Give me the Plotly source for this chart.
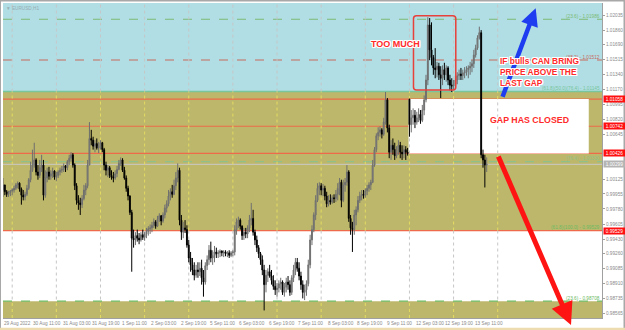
import plotly.graph_objects as go

# ---------------- data (EURUSD H1, 29 Aug 19:00 -> 13 Sep 2022) ----------------
CLOSE = [
 1.0006,0.9998,0.9995,0.9997,0.9999,1.0000,1.0002,1.0006,1.0008,1.0001,
 0.9994,0.9992,0.9995,1.0002,1.0012,1.0023,1.0029,1.0035,1.0021,1.0017,
 1.0026,1.0029,0.9994,1.0014,1.0021,1.0016,1.0019,1.0022,1.0015,1.0017,
 1.0021,1.0023,1.0024,1.0028,1.0026,1.0033,1.0037,1.0041,1.0029,1.0005,
 0.9988,0.9985,0.9983,0.9990,1.0000,1.0005,1.0029,1.0060,1.0058,1.0051,
 1.0054,1.0049,1.0051,1.0055,1.0047,1.0029,1.0023,1.0026,1.0017,1.0015,
 1.0014,1.0019,1.0024,1.0031,1.0035,1.0023,1.0014,1.0002,0.9993,0.9974,
 0.9944,0.9942,0.9947,0.9944,0.9942,0.9948,0.9945,0.9949,0.9952,0.9955,
 0.9956,0.9959,0.9963,0.9958,0.9966,0.9970,0.9964,0.9971,0.9979,0.9984,
 0.9993,0.9998,0.9995,1.0005,1.0014,1.0023,0.9965,0.9951,0.9956,0.9954,
 0.9936,0.9921,0.9913,0.9907,0.9901,0.9907,0.9905,0.9909,0.9898,0.9893,
 0.9912,0.9919,0.9930,0.9921,0.9924,0.9928,0.9926,0.9927,0.9929,0.9927,
 0.9928,0.9926,0.9927,0.9924,0.9927,0.9928,0.9954,0.9963,0.9965,0.9958,
 0.9947,0.9951,0.9949,0.9956,0.9965,0.9967,0.9951,0.9942,0.9933,0.9926,
 0.9919,0.9907,0.9890,0.9901,0.9905,0.9900,0.9895,0.9888,0.9884,0.9886,
 0.9891,0.9893,0.9881,0.9887,0.9893,0.9890,0.9881,0.9898,0.9907,0.9916,
 0.9909,0.9900,0.9890,0.9881,0.9884,0.9891,0.9913,0.9942,0.9954,0.9971,
 0.9988,1.0002,1.0005,1.0000,1.0002,0.9993,0.9984,0.9988,0.9986,0.9991,
 0.9990,0.9995,1.0002,1.0009,0.9988,1.0006,1.0009,1.0021,0.9967,0.9956,
 0.9954,0.9971,0.9977,0.9988,0.9993,0.9995,0.9994,0.9999,1.0002,1.0006,
 1.0009,1.0029,1.0047,1.0063,1.0067,1.0070,1.0065,1.0079,1.0105,1.0072,
 1.0044,1.0052,1.0047,1.0040,1.0047,1.0052,1.0044,1.0042,1.0047,1.0044,
 1.00426,1.0076,1.0084,1.0087,1.0079,1.0084,1.0088,1.0081,1.0093,1.0105,
 1.0128,1.0192,1.0163,1.0154,1.0142,1.0140,1.0144,1.0134,1.0130,1.0140,
 1.0134,1.0142,1.0128,1.0122,1.0121,1.0123,1.0128,1.0133,1.0135,1.0133,
 1.0136,1.0137,1.0140,1.0142,1.0144,1.0147,1.0157,1.0165,1.0177,1.0183,
 1.0041,1.0035,1.0029,1.00299]
HIGH = [
 1.0014,1.0006,1.0000,0.9999,1.0000,1.0002,1.0005,1.0008,1.0010,1.0009,
 1.0003,1.0000,0.9998,1.0006,1.0014,1.0033,1.0047,1.0055,1.0037,1.0029,
 1.0035,1.0041,1.0035,1.0023,1.0026,1.0027,1.0023,1.0026,1.0023,1.0021,
 1.0023,1.0026,1.0028,1.0031,1.0029,1.0035,1.0041,1.0044,1.0043,1.0031,
 1.0008,0.9994,0.9991,0.9994,1.0006,1.0008,1.0035,1.0079,1.0070,1.0062,
 1.0058,1.0060,1.0056,1.0058,1.0056,1.0049,1.0033,1.0029,1.0028,1.0023,
 1.0021,1.0023,1.0028,1.0035,1.0038,1.0037,1.0027,1.0017,1.0005,0.9994,
 0.9977,0.9954,0.9951,0.9954,0.9950,0.9951,0.9954,0.9951,0.9956,0.9958,
 0.9960,0.9963,0.9967,0.9965,0.9970,0.9973,0.9971,0.9974,0.9983,0.9988,
 1.0000,1.0002,1.0006,1.0012,1.0021,1.0031,1.0026,0.9971,0.9963,0.9965,
 0.9959,0.9942,0.9928,0.9921,0.9916,0.9913,0.9916,0.9916,0.9919,0.9907,
 0.9916,0.9924,0.9936,0.9940,0.9930,0.9935,0.9933,0.9930,0.9931,0.9930,
 0.9930,0.9930,0.9929,0.9930,0.9929,0.9930,0.9959,0.9967,0.9969,0.9967,
 0.9959,0.9956,0.9956,0.9959,0.9971,0.9985,0.9977,0.9954,0.9947,0.9936,
 0.9928,0.9924,0.9913,0.9907,0.9909,0.9913,0.9907,0.9901,0.9895,0.9892,
 0.9895,0.9898,0.9895,0.9892,0.9898,0.9900,0.9895,0.9901,0.9913,0.9921,
 0.9921,0.9916,0.9905,0.9895,0.9890,0.9895,0.9919,0.9948,0.9959,0.9974,
 0.9994,1.0008,1.0009,1.0008,1.0007,1.0005,0.9998,0.9994,0.9995,0.9994,
 0.9995,1.0000,1.0008,1.0014,1.0012,1.0012,1.0014,1.0029,1.0023,0.9971,
 0.9963,0.9977,0.9981,0.9993,0.9998,1.0000,1.0000,1.0002,1.0006,1.0009,
 1.0012,1.0035,1.0050,1.0066,1.0073,1.0074,1.0072,1.0084,1.0114,1.0107,
 1.0076,1.0058,1.0060,1.0055,1.0051,1.0058,1.0056,1.0052,1.0052,1.0051,
 1.0049,1.0106,1.0093,1.0095,1.0093,1.0091,1.0095,1.0093,1.0099,1.0110,
 1.0134,1.0201,1.0200,1.0195,1.0157,1.0165,1.0149,1.0148,1.0144,1.0145,
 1.0148,1.0145,1.0144,1.0134,1.0130,1.0128,1.0133,1.0137,1.0140,1.0142,
 1.0140,1.0143,1.0144,1.0145,1.0149,1.0151,1.0163,1.0169,1.0180,1.0190,
 1.0186,1.0047,1.0041,1.0038]
LOW = [
 0.9992,0.9994,0.9992,0.9992,0.9993,0.9994,0.9997,1.0000,1.0002,0.9998,
 0.9983,0.9988,0.9988,0.9993,1.0000,1.0009,1.0021,1.0026,1.0017,1.0012,
 1.0014,1.0021,0.9988,0.9991,1.0009,1.0012,1.0012,1.0014,1.0012,1.0010,
 1.0014,1.0017,1.0020,1.0021,1.0021,1.0023,1.0029,1.0033,1.0026,1.0000,
 0.9983,0.9977,0.9971,0.9979,0.9988,0.9994,1.0002,1.0029,1.0052,1.0047,
 1.0044,1.0047,1.0043,1.0047,1.0044,1.0023,1.0017,1.0015,1.0014,1.0012,
 1.0009,1.0012,1.0015,1.0023,1.0028,1.0021,1.0012,0.9998,0.9988,0.9971,
 0.9905,0.9933,0.9936,0.9940,0.9937,0.9940,0.9942,0.9941,0.9944,0.9947,
 0.9949,0.9951,0.9956,0.9955,0.9957,0.9963,0.9959,0.9962,0.9967,0.9974,
 0.9981,0.9988,0.9991,0.9994,1.0000,1.0009,0.9959,0.9942,0.9944,0.9950,
 0.9933,0.9916,0.9905,0.9901,0.9895,0.9898,0.9898,0.9900,0.9890,0.9876,
 0.9890,0.9907,0.9913,0.9916,0.9913,0.9916,0.9921,0.9921,0.9922,0.9923,
 0.9922,0.9923,0.9922,0.9921,0.9922,0.9923,0.9924,0.9948,0.9956,0.9954,
 0.9942,0.9942,0.9944,0.9944,0.9951,0.9959,0.9947,0.9936,0.9928,0.9921,
 0.9913,0.9901,0.9860,0.9881,0.9893,0.9898,0.9890,0.9884,0.9878,0.9876,
 0.9881,0.9884,0.9878,0.9876,0.9881,0.9884,0.9877,0.9878,0.9893,0.9901,
 0.9905,0.9895,0.9884,0.9874,0.9872,0.9877,0.9888,0.9909,0.9936,0.9951,
 0.9965,0.9986,0.9994,0.9994,0.9993,0.9988,0.9980,0.9981,0.9983,0.9984,
 0.9985,0.9986,0.9988,0.9994,0.9980,0.9986,0.9998,1.0005,0.9963,0.9948,
 0.9928,0.9948,0.9959,0.9974,0.9985,0.9988,0.9990,0.9991,0.9994,0.9998,
 1.0000,1.0008,1.0027,1.0044,1.0058,1.0062,1.0060,1.0063,1.0076,1.0067,
 1.0037,1.0035,1.0041,1.0035,1.0037,1.0041,1.0037,1.0035,1.0037,1.0035,
 1.0040,1.0062,1.0067,1.0076,1.0072,1.0076,1.0079,1.0077,1.0079,1.0087,
 1.0102,1.0122,1.0151,1.0145,1.0134,1.0130,1.0131,1.0128,1.0107,1.0122,
 1.0128,1.0126,1.0122,1.0116,1.0114,1.0116,1.0119,1.0123,1.0128,1.0128,
 1.0128,1.0130,1.0133,1.0130,1.0134,1.0137,1.0142,1.0154,1.0163,1.0175,
 1.0037,1.0026,1.0003,1.0021]
FIRST_OPEN = 1.0000          # open of the first bar
GAP_BAR = 221                # first bar of 12 Sep (weekend gap)
GAP_OPEN = 1.01058           # 12 Sep open

# time labels: (bar index, text)
TIME_LABELS = [(0, "29 Aug 2022"), (16, "30 Aug 11:00"), (32, "31 Aug 03:00"), (48, "31 Aug 19:00"),
               (64, "1 Sep 11:00"), (80, "2 Sep 03:00"), (96, "2 Sep 19:00"), (112, "5 Sep 11:00"),
               (128, "6 Sep 03:00"), (144, "6 Sep 19:00"), (160, "7 Sep 11:00"), (176, "8 Sep 03:00"),
               (192, "8 Sep 19:00"), (208, "9 Sep 11:00"), (224, "12 Sep 03:00"), (240, "12 Sep 19:00"),
               (256, "13 Sep 11:00")]
MIDNIGHT_BARS = [5, 29, 53, 77, 101, 125, 149, 173, 197, 221, 245, 269]
PRICE_TICKS = [1.02035, 1.01860, 1.01690, 1.01515, 1.01340, 1.01170, 1.00995, 1.00820, 1.00645,
               1.00125, 0.99955, 0.99780, 0.99605, 0.99430, 0.99260, 0.99085, 0.98910, 0.98735, 0.98565]

# horizontal levels
ZONE_TOP_EDGE = 1.01145      # supply zone lower edge (cyan above)
ZONE_BOTTOM = 0.99529        # golden zone lower edge
LOW_ZONE_TOP = 0.98708       # lower golden zone upper edge
GAP_TOP = 1.01058
GAP_MID = 1.00742
GAP_BOTTOM = 1.00426
BID = 1.00299
FIB_DASHED = [(1.01986, "(23.6) - 1.01986", "#7dbb74"), (1.01512, "(38.2) - 1.01512", "#c86a5e"),
              (1.00330, "(76.4) - 1.00330", "#8fc08a"), (0.98708, "(23.6) - 0.98708", "#6cbb63")]
FIB_SOLID = [(1.01145, "(61.8)(50.0)(76.4) - 1.01145", "#79c59c"),
             (0.99529, "(61.8)(100.0) - 0.99529", "#6cbb63")]

# ---------------- build ----------------
n = len(CLOSE)
xs = list(range(n))
OPEN = [FIRST_OPEN] + CLOSE[:-1]
OPEN[GAP_BAR] = GAP_OPEN
hi = [max(h, o, c) for h, o, c in zip(HIGH, OPEN, CLOSE)]
lo = [min(l, o, c) for l, o, c in zip(LOW, OPEN, CLOSE)]

Y_RANGE = [0.98512, 1.02175]
X_RANGE = [0, 325.7]
GAP_X0 = GAP_BAR - 0.5
GAP_X1 = 318.5

CYAN = "#b0dee4"
KHAKI = "#bdb76b"

shapes = []
def band(y0, y1, color, x0=None, x1=None):
    if x0 is None:
        shapes.append(dict(type="rect", xref="paper", yref="y", x0=0, x1=1, y0=y0, y1=y1,
                           fillcolor=color, line_width=0, layer="below"))
    else:
        shapes.append(dict(type="rect", xref="x", yref="y", x0=x0, x1=x1, y0=y0, y1=y1,
                           fillcolor=color, line_width=0, layer="below"))

band(ZONE_TOP_EDGE, Y_RANGE[1], CYAN)
band(ZONE_BOTTOM, ZONE_TOP_EDGE, KHAKI)
band(Y_RANGE[0], LOW_ZONE_TOP, KHAKI)
band(GAP_BOTTOM, GAP_TOP, "#ffffff", GAP_X0, GAP_X1)

# dotted vertical grid (yellowish on khaki, grey elsewhere)
GRID_GREY = "#c6c6c6"
GRID_YEL = "#e4dc62"
for b in MIDNIGHT_BARS:
    segs = [(ZONE_TOP_EDGE, Y_RANGE[1], GRID_GREY), (ZONE_BOTTOM, LOW_ZONE_TOP, GRID_GREY)]
    if GAP_X0 <= b <= GAP_X1:
        segs += [(GAP_TOP, ZONE_TOP_EDGE, GRID_YEL), (GAP_BOTTOM, GAP_TOP, GRID_GREY),
                 (ZONE_BOTTOM, GAP_BOTTOM, GRID_YEL)]
    else:
        segs += [(ZONE_BOTTOM, ZONE_TOP_EDGE, GRID_YEL)]
    segs += [(Y_RANGE[0], LOW_ZONE_TOP, GRID_YEL)]
    for y0, y1, col in segs:
        shapes.append(dict(type="line", xref="x", yref="y", x0=b, x1=b, y0=y0, y1=y1,
                           line=dict(color=col, width=1, dash="dot"), layer="below"))

def hline(y, color, width=1, dash="solid"):
    shapes.append(dict(type="line", xref="paper", yref="y", x0=0, x1=1, y0=y, y1=y,
                       line=dict(color=color, width=width, dash=dash), layer="below"))

for y, _, col in FIB_DASHED:
    hline(y, col, 1.2, "dash")
hline(ZONE_TOP_EDGE, "#79c59c", 1.5)
for y in (GAP_TOP, GAP_MID, GAP_BOTTOM, ZONE_BOTTOM):
    hline(y, "#ee6a4a", 1.2)
hline(BID, "#c8c8c8", 1)

# rounded red box around the spike
bx0, bx1, by0, by1 = 223.2, 246.2, 1.01163, 1.02027
rx, ry = 1.6, 0.00035
path = (f"M{bx0+rx},{by0} L{bx1-rx},{by0} Q{bx1},{by0} {bx1},{by0+ry} L{bx1},{by1-ry} "
        f"Q{bx1},{by1} {bx1-rx},{by1} L{bx0+rx},{by1} Q{bx0},{by1} {bx0},{by1-ry} "
        f"L{bx0},{by0+ry} Q{bx0},{by0} {bx0+rx},{by0} Z")
shapes.append(dict(type="path", xref="x", yref="y", path=path,
                   line=dict(color="#e8403a", width=1.5), layer="above"))

# frame
shapes.append(dict(type="rect", xref="paper", yref="paper", x0=-3/599, x1=1+22.5/599,
                   y0=-11.5/315, y1=1+2.5/315, line=dict(color="#a8a8a8", width=2), layer="above"))
shapes.append(dict(type="line", xref="paper", yref="paper", x0=-3/599, x1=1+23/599,
                   y0=-11.2/315, y1=-11.2/315, line=dict(color="#ecdcb0", width=3), layer="above"))

fig = go.Figure()
fig.add_trace(go.Candlestick(
    x=xs, open=OPEN, high=hi, low=lo, close=CLOSE,
    increasing=dict(line=dict(color="#6f6f6f", width=1), fillcolor="#8e8e8e"),
    decreasing=dict(line=dict(color="#000000", width=1), fillcolor="#000000"),
    whiskerwidth=0, hoverinfo="skip", showlegend=False))

ann = []
TXT = "Liberation Sans"
for b, t in TIME_LABELS:
    ann.append(dict(x=b, y=0, xref="x", yref="paper", text=t, showarrow=False, xanchor="left",
                    yanchor="top", yshift=-1.5, borderpad=0,
                    font=dict(family=TXT, size=4.7, color="#8a8a8a")))
for y, t, col in FIB_DASHED + FIB_SOLID:
    ann.append(dict(x=1, y=y, xref="paper", yref="y", text=t, showarrow=False, xanchor="right",
                    yanchor="bottom", xshift=-1, yshift=-0.5, borderpad=0,
                    font=dict(family=TXT, size=4.7, color=col)))
for y, bg in ((GAP_TOP, "#ff1010"), (GAP_MID, "#ff1010"), (GAP_BOTTOM, "#ff1010"),
              (ZONE_BOTTOM, "#ff1010"), (BID, "#b4b4b4")):
    ann.append(dict(x=1, y=y, xref="paper", yref="y", text=f"{y:.5f}", showarrow=False,
                    xanchor="left", yanchor="middle", xshift=1, bgcolor=bg, width=21, height=6,
                    borderpad=0, font=dict(family=TXT, size=4.7, color="#ffffff")))
ann.append(dict(x=0, y=1, xref="paper", yref="paper", text="▼ EURUSD,H1", showarrow=False,
                xanchor="left", yanchor="top", xshift=1, yshift=-1,
                font=dict(family=TXT, size=4.7, color="#98adb4")))

# arrows (drawn before the texts so the texts sit on top)
ann.append(dict(x=(535.7-3)/599, y=(318-8.3)/315, xref="paper", yref="paper", ax=-33.7, ay=90,
                axref="pixel", ayref="pixel", text="", showarrow=True, arrowhead=2,
                arrowwidth=4.5, arrowsize=0.78, arrowcolor="#1e3cf0", standoff=0))
ann.append(dict(x=(571-3)/599, y=(318-325)/315, xref="paper", yref="paper", ax=-73.3, ay=-170,
                axref="pixel", ayref="pixel", text="", showarrow=True, arrowhead=2,
                arrowwidth=5, arrowsize=0.9, arrowcolor="#ff1414", standoff=0))

# red call-out texts with a white halo
HALO = ("1px 1px 0 #ffffff, -1px -1px 0 #ffffff, 1px -1px 0 #ffffff, -1px 1px 0 #ffffff, "
        "0 1px 0 #ffffff, 0 -1px 0 #ffffff, 1px 0 0 #ffffff, -1px 0 0 #ffffff")
CALLOUTS = [
    dict(x=213.5, y=1.01704, text="TOO MUCH", size=9, xanchor="center"),
    dict(x=269.4, y=1.01373, text="IF bulls CAN BRING<br>PRICE ABOVE THE<br>LAST GAP", size=8.4,
         xanchor="left"),
    dict(x=286.4, y=1.00811, text="GAP HAS CLOSED", size=8.8, xanchor="center"),
]
for c in CALLOUTS:
    ann.append(dict(x=c["x"], y=c["y"], xref="x", yref="y", text=c["text"], showarrow=False,
                    xanchor=c["xanchor"], align="left",
                    font=dict(family=TXT, size=c["size"], color="#ff2a2a", weight="bold",
                              shadow=HALO)))

fig.update_layout(
    width=625, height=330, margin=dict(l=3, r=23, t=3, b=12),
    paper_bgcolor="#ffffff", plot_bgcolor="#ffffff",
    shapes=shapes, annotations=ann, showlegend=False,
    xaxis=dict(range=X_RANGE, showgrid=False, zeroline=False, showticklabels=False,
               showline=True, linecolor="#a0a0a0", linewidth=1, rangeslider=dict(visible=False),
               fixedrange=True),
    yaxis=dict(range=Y_RANGE, side="right", showgrid=False, zeroline=False,
               tickvals=PRICE_TICKS, ticktext=[f"{v:.5f}" for v in PRICE_TICKS],
               ticks="outside", ticklen=2, tickcolor="#a0a0a0",
               tickfont=dict(family=TXT, size=4.7, color="#8a8a8a"),
               showline=True, linecolor="#a0a0a0", linewidth=1, fixedrange=True),
)

fig.write_html("out.html")
